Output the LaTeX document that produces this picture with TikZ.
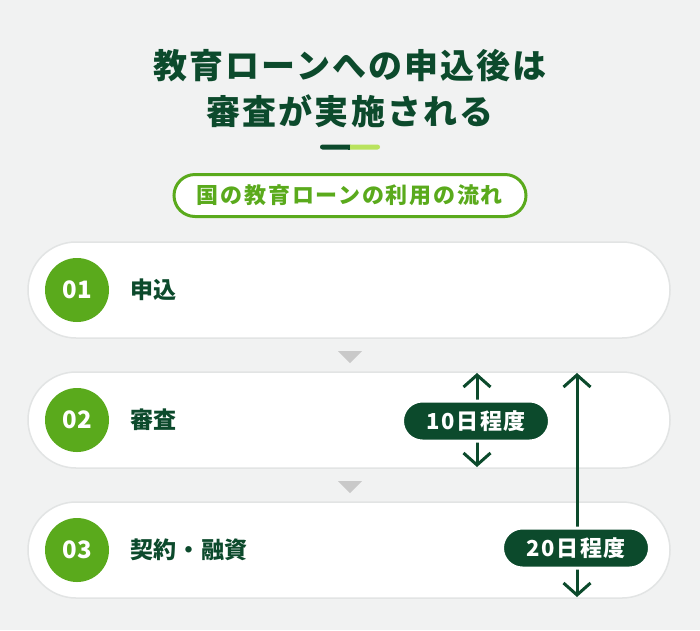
\documentclass[tikz,border=0pt]{standalone}
\usepackage{fontspec}
\setmainfont{Noto Sans CJK JP}
\usetikzlibrary{arrows.meta}

\definecolor{bggray}{HTML}{F1F2F2}
\definecolor{darkgreen}{HTML}{0C4A2C}
\definecolor{leafgreen}{HTML}{5AAA1C}
\definecolor{limegreen}{HTML}{B9E35E}
\definecolor{cardline}{HTML}{E2E4E4}
\definecolor{tipgray}{HTML}{C9C9C9}

\tikzset{
  card/.style={draw=cardline, line width=1.5pt, fill=white, rounded corners=48pt,
    minimum width=642pt, minimum height=96pt, inner sep=0pt},
  stepnum/.style={circle, fill=leafgreen, minimum size=64pt, inner sep=0pt,
    text=white, font=\fontsize{24}{24}\selectfont\bfseries},
  steplabel/.style={anchor=west, inner sep=0pt, text=darkgreen,
    font=\fontsize{23}{23}\selectfont\bfseries\addfontfeatures{LetterSpace=3}},
  days/.style={fill=darkgreen, draw=white, line width=3pt, rounded corners=20pt,
    minimum width=147pt, minimum height=40pt, inner sep=0pt, text=white,
    font=\fontsize{22}{22}\selectfont\bfseries\addfontfeatures{LetterSpace=8}},
  span/.style={draw=darkgreen, line width=3pt,
    {Straight Barb[length=12pt,width=27pt]}-{Straight Barb[length=12pt,width=27pt]}}
}

\begin{document}
\begin{tikzpicture}[x=1pt, y=-1pt]
\useasboundingbox[fill=bggray] (0,0) rectangle (700,630);
% drawing title
\node[text=darkgreen, align=center, inner sep=0pt,
  font=\fontsize{34}{46}\selectfont\bfseries\addfontfeatures{LetterSpace=6}]
  (title) at (350,89) {教育ローンへの申込後は\\審査が実施される};
\fill[darkgreen, rounded corners=2.5pt] (320,144.5) rectangle (352,149.5);
\fill[limegreen, rounded corners=2.5pt] (348,144.5) rectangle (380,149.5);
\fill[darkgreen] (348,144.5) rectangle (350,149.5);
\node[draw=leafgreen, line width=3pt, fill=white, rounded corners=21pt,
  minimum width=352pt, minimum height=42pt, inner sep=0pt, text=leafgreen,
  font=\fontsize{22}{22}\selectfont\bfseries\addfontfeatures{LetterSpace=8}]
  (flow) at (350,195.5) {国の教育ローンの利用の流れ};
% drawing cards
\foreach \i/\cy/\txt in {1/290/申込, 2/420/審査, 3/550/契約・融資}{
  \node[card] (card\i) at (349,\cy) {};
  \node[stepnum] (num\i) at (77,\cy) {0\i};
  \node[steplabel] (label\i) at (130,\cy) {\txt};
}
% drawing triangles
\foreach \cy in {351,481}{
  \fill[tipgray] (338,\cy) -- (362,\cy) -- (350,{\cy + 12}) -- cycle;
}
% drawing spans
\coordinate (shorttop) at (477,373);
\coordinate (shortbot) at (477,467);
\coordinate (longtop) at (577,373);
\coordinate (longbot) at (577,597);
\draw[span] (shorttop) -- (shortbot);
\draw[span] (longtop) -- (longbot);
\node[days] (short) at (476,421) {10日程度};
\node[days] (long) at (576,548) {20日程度};
\end{tikzpicture}
\end{document}
